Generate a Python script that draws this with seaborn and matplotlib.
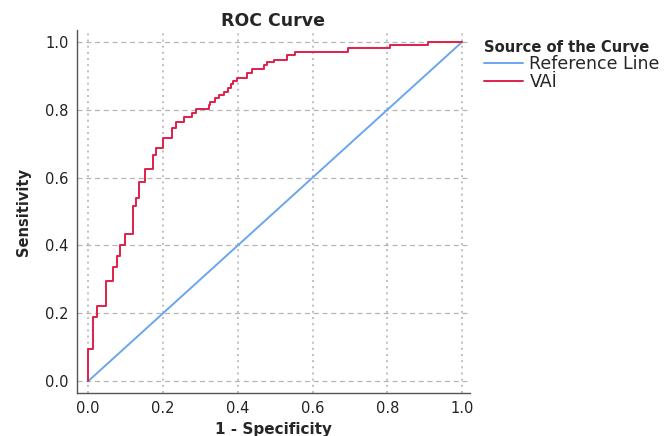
import pandas as pd
import seaborn as sns
import matplotlib.pyplot as plt

sns.set_style("white")
plt.rcParams["font.family"] = ["DejaVu Sans"]

# ROC corner points (1 - specificity, sensitivity)
fpr = [0.0, 0.012, 0.024, 0.047, 0.066, 0.076, 0.086, 0.099, 0.119, 0.128,
       0.137, 0.151, 0.172, 0.182, 0.201, 0.224, 0.235, 0.257, 0.277, 0.289,
       0.322, 0.327, 0.340, 0.350, 0.363, 0.375, 0.382, 0.388, 0.397, 0.424,
       0.437, 0.469, 0.478, 0.497, 0.531, 0.553, 0.696, 0.807, 0.910, 1.0]
tpr = [0.0, 0.094, 0.190, 0.222, 0.295, 0.337, 0.369, 0.401, 0.433, 0.516,
       0.539, 0.586, 0.625, 0.667, 0.686, 0.718, 0.747, 0.763, 0.779, 0.789,
       0.802, 0.814, 0.824, 0.834, 0.844, 0.853, 0.863, 0.875, 0.886, 0.895,
       0.907, 0.919, 0.932, 0.940, 0.947, 0.962, 0.971, 0.982, 0.991, 1.0]
ref_x = [0.0, 1.0]
ref_y = [0.0, 1.0]
ticks = [0.0, 0.2, 0.4, 0.6, 0.8, 1.0]
tick_labels = ["0.0", "0.2", "0.4", "0.6", "0.8", "1.0"]

roc = pd.DataFrame({"fpr": fpr, "tpr": tpr})
ref = pd.DataFrame({"fpr": ref_x, "tpr": ref_y})

fig = plt.figure(figsize=(6.69, 4.36), dpi=100)
ax = fig.add_axes([0.1151, 0.0986, 0.5874, 0.8325])

sns.lineplot(data=ref, x="fpr", y="tpr", ax=ax, color="#6aa6ee", lw=1.4,
             label="Reference Line", sort=False, estimator=None)
sns.lineplot(data=roc, x="fpr", y="tpr", ax=ax, color="#e0204a", lw=1.4,
             label="VAİ", sort=False, estimator=None, drawstyle="steps-pre")

ax.set_xlim(-0.03, 1.021)
ax.set_ylim(-0.035, 1.035)
ax.set_xticks(ticks)
ax.set_xticklabels(tick_labels)
ax.set_yticks(ticks)
ax.set_yticklabels(tick_labels)
ax.tick_params(length=0, pad=6, labelsize=10.5, colors="#222222")

# SPSS-like grid: dashed horizontal, dotted vertical
for t in ticks:
    ax.axhline(t, color="#b5b5b5", ls=(0, (4, 3)), lw=0.9, zorder=0)
    ax.axvline(t, color="#b5b5b5", ls=(0, (1.2, 2.5)), lw=1.2, zorder=0)

for s in ["top", "right"]:
    ax.spines[s].set_visible(False)
for s in ["left", "bottom"]:
    ax.spines[s].set_color("#555555")
    ax.spines[s].set_linewidth(1.0)

ax.set_title("ROC Curve", fontsize=12.5, fontweight="bold", pad=3)
ax.set_xlabel("1 - Specificity", fontsize=11, fontweight="bold", labelpad=4)
ax.set_ylabel("Sensitivity", fontsize=10.5, fontweight="bold", labelpad=10)

leg = ax.legend(title="Source of the Curve", loc="upper left",
                bbox_to_anchor=(1.01, 1.0), frameon=False, fontsize=12.5,
                handlelength=2.2, handletextpad=0.4, labelspacing=0.0,
                borderaxespad=0.2)
leg.get_title().set_fontweight("bold")
leg.get_title().set_fontsize(10.6)
leg._legend_box.align = "left"

fig.savefig("out.png", dpi=100)
